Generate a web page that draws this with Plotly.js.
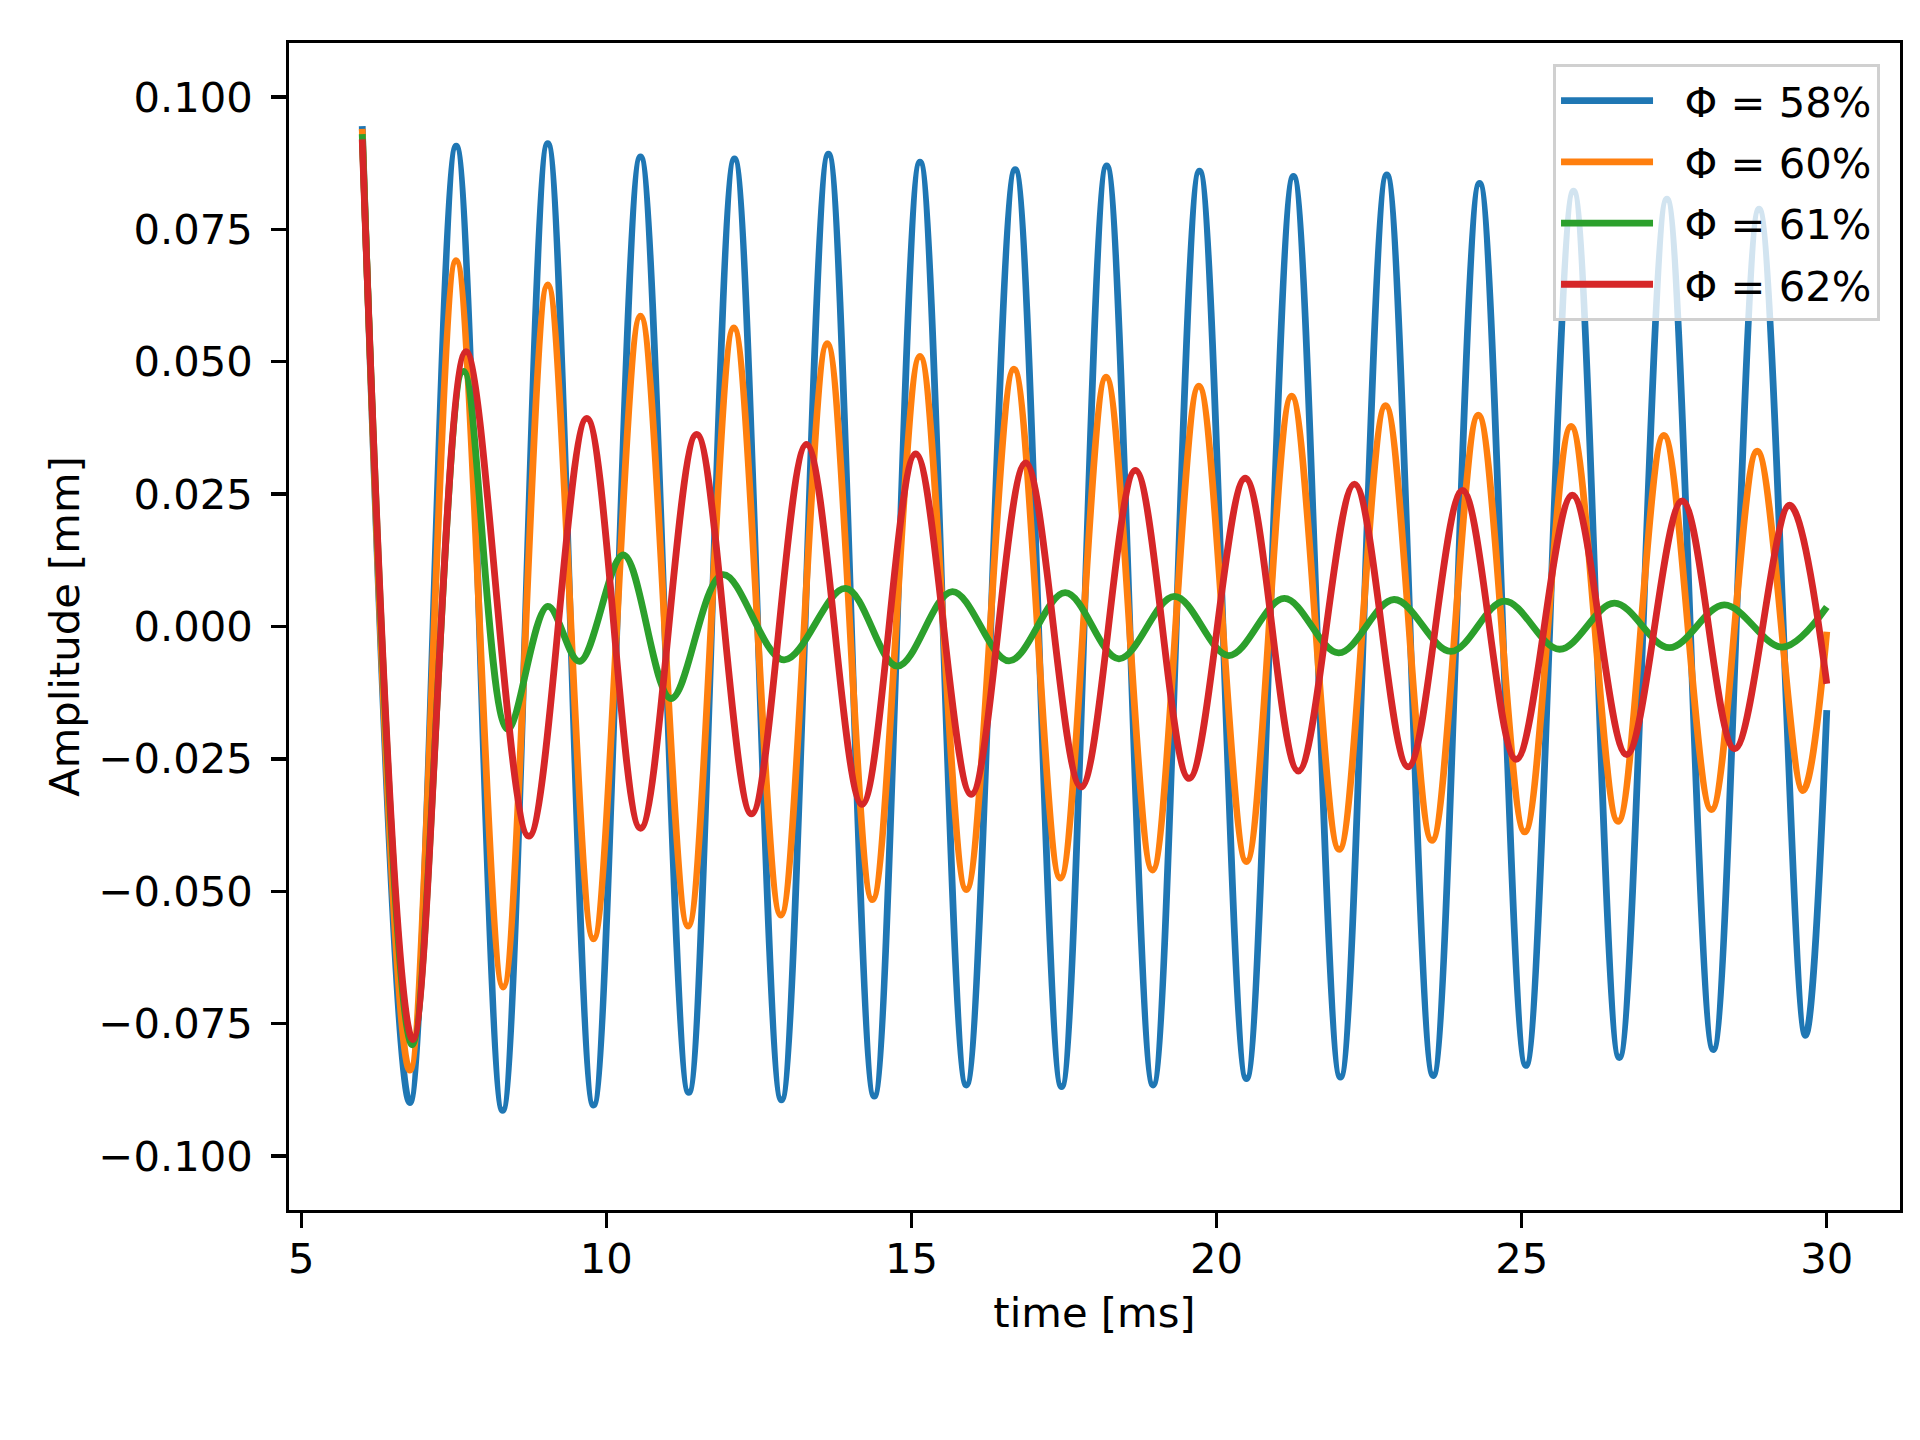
<!DOCTYPE html>
<html>
<head>
<meta charset="utf-8">
<script src="https://cdn.plot.ly/plotly-3.0.1.min.js"></script>
<style>
  body { margin: 0; background: #fff; }
  #plot { width: 1920px; height: 1440px; }
</style>
</head>
<body>
<div id="plot"></div>
<script>
// extrema, time in ms, amplitude in mm
var t58 = [6.00, 6.78, 7.54, 8.30, 9.04, 9.79, 10.56, 11.35, 12.10, 12.87, 13.64, 14.39, 15.14, 15.90, 16.70, 17.46, 18.20, 18.96, 19.72, 20.49, 21.26, 22.03, 22.79, 23.55, 24.31, 25.07, 25.85, 26.60, 27.38, 28.14, 28.89, 29.65, 30.00];
var a58 = [0.0945, -0.0899, 0.0907, -0.0914, 0.0912, -0.0904, 0.0887, -0.0880, 0.0883, -0.0894, 0.0892, -0.0887, 0.0877, -0.0866, 0.0863, -0.0869, 0.0870, -0.0866, 0.0860, -0.0854, 0.0850, -0.0851, 0.0853, -0.0848, 0.0837, -0.0829, 0.0822, -0.0814, 0.0807, -0.0799, 0.0788, -0.0772, -0.0158];

var t60 = [6.00, 6.78, 7.54, 8.31, 9.04, 9.79, 10.56, 11.34, 12.09, 12.86, 13.62, 14.36, 15.14, 15.90, 16.68, 17.44, 18.19, 18.95, 19.71, 20.49, 21.23, 22.01, 22.77, 23.53, 24.29, 25.05, 25.81, 26.58, 27.33, 28.11, 28.86, 29.61, 30.00];
var a60 = [0.0940, -0.0838, 0.0691, -0.0681, 0.0645, -0.0590, 0.0586, -0.0566, 0.0564, -0.0545, 0.0534, -0.0516, 0.0510, -0.0497, 0.0486, -0.0475, 0.0471, -0.0460, 0.0454, -0.0444, 0.0435, -0.0421, 0.0417, -0.0404, 0.0399, -0.0388, 0.0378, -0.0368, 0.0361, -0.0346, 0.0331, -0.0310, -0.0010];

var t61 = [6.00, 6.82, 7.66, 8.38, 9.04, 9.56, 10.28, 11.06, 11.91, 12.91, 13.92, 14.77, 15.67, 16.60, 17.52, 18.40, 19.31, 20.20, 21.11, 22.00, 22.91, 23.84, 24.72, 25.62, 26.52, 27.42, 28.32, 29.27, 30.00];
var a61 = [0.0930, -0.0790, 0.0482, -0.0194, 0.0038, -0.0066, 0.0135, -0.0136, 0.0098, -0.0063, 0.0072, -0.0075, 0.0066, -0.0065, 0.0064, -0.0061, 0.0057, -0.0055, 0.0053, -0.0050, 0.0051, -0.0047, 0.0048, -0.0043, 0.0044, -0.0040, 0.0041, -0.0039, 0.0037];

var t62 = [6.00, 6.83, 7.70, 8.73, 9.68, 10.56, 11.48, 12.38, 13.28, 14.19, 15.07, 15.98, 16.87, 17.78, 18.67, 19.55, 20.47, 21.34, 22.26, 23.14, 24.03, 24.91, 25.83, 26.72, 27.63, 28.49, 29.39, 30.00];
var a62 = [0.0920, -0.0780, 0.0519, -0.0396, 0.0393, -0.0381, 0.0363, -0.0354, 0.0344, -0.0336, 0.0326, -0.0317, 0.0309, -0.0303, 0.0295, -0.0287, 0.0280, -0.0273, 0.0269, -0.0265, 0.0257, -0.0251, 0.0248, -0.0242, 0.0237, -0.0231, 0.0229, -0.0108];

var names = ['Φ = 58%', 'Φ = 60%', 'Φ = 61%', 'Φ = 62%'];
var colors = ['#1f77b4', '#ff7f0e', '#2ca02c', '#d62728'];

var xs = [t58, t60, t61, t62];
var ys = [a58, a60, a61, a62];

var data = [];
for (var k = 0; k < xs.length; k++) {
  data.push({
    x: xs[k],
    y: ys[k],
    name: '\u00a0\u00a0' + names[k],
    legendgroup: 'g' + k,
    mode: 'lines',
    type: 'scatter',
    line: {color: colors[k], width: 6.8, shape: 'spline', smoothing: 1}
  });
}

var fnt = {family: 'DejaVu Sans, sans-serif', size: 41.7, color: '#000'};

var lay = {
  width: 1920,
  height: 1440,
  margin: {l: 289, r: 20, t: 43, b: 230, pad: 0},
  paper_bgcolor: '#fff',
  plot_bgcolor: '#fff',
  font: fnt,
  showlegend: true,
  xaxis: {
    range: [4.8, 31.2],
    tick0: 5,
    dtick: 5,
    ticks: 'outside',
    ticklen: 14.6,
    tickwidth: 3.3,
    tickcolor: '#000',
    ticklabelstandoff: -5,
    showline: true,
    linecolor: '#000',
    linewidth: 3.3,
    mirror: true,
    showgrid: false,
    zeroline: false,
    tickfont: fnt,
    title: {text: 'time [ms]', font: fnt, standoff: 17}
  },
  yaxis: {
    range: [-0.1102, 0.1102],
    tick0: 0,
    dtick: 0.025,
    tickformat: '.3f',
    ticks: 'outside',
    ticklen: 14.6,
    tickwidth: 3.3,
    tickcolor: '#000',
    ticklabelstandoff: 10,
    showline: true,
    linecolor: '#000',
    linewidth: 3.3,
    mirror: true,
    showgrid: false,
    zeroline: false,
    tickfont: fnt,
    title: {text: 'Amplitude [mm]', font: fnt, standoff: 7}
  },
  legend: {
    x: 0.9876,
    y: 0.982,
    xanchor: 'right',
    yanchor: 'top',
    bgcolor: 'rgba(255,255,255,0.8)',
    bordercolor: '#d0d0d0',
    borderwidth: 3,
    font: fnt,
    itemwidth: 92,
    tracegroupgap: 4
  }
};

Plotly.newPlot('plot', data, lay, {staticPlot: true});
</script>
</body>
</html>
